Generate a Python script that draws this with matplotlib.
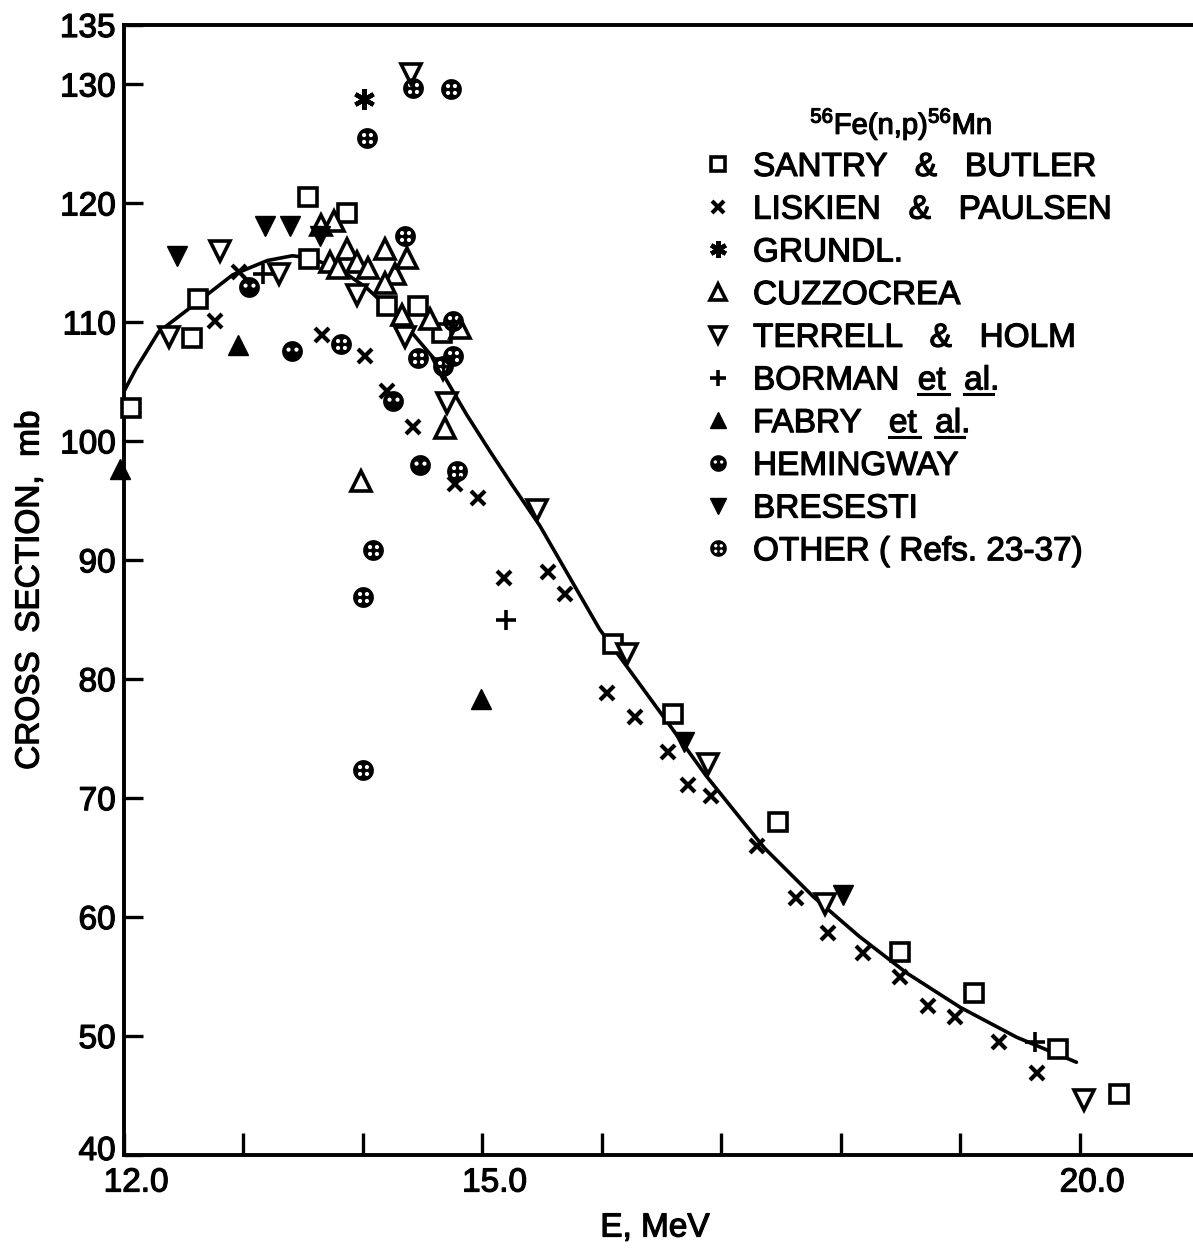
import numpy as np
import matplotlib
matplotlib.use('Agg')
from matplotlib import pyplot as plt
from matplotlib import patheffects
from matplotlib.path import Path
from matplotlib.lines import Line2D
from matplotlib.font_manager import FontProperties
from matplotlib.transforms import ScaledTranslation

plt.rcParams['font.family'] = ['Liberation Sans', 'DejaVu Sans']
plt.rcParams['mathtext.fontset'] = 'custom'
plt.rcParams['mathtext.rm'] = 'Liberation Sans'

W, H = 1193, 1252

# data: E in MeV, cross section in mb
SANTRY_E = [12.06, 12.57, 12.62, 13.54, 13.55, 13.87, 14.20, 14.46, 14.66, 16.09, 16.59,
            17.47, 18.49, 19.11, 19.82, 20.33]
SANTRY_S = [102.8, 108.7, 112.0, 120.5, 115.3, 119.2, 111.4, 111.4, 109.1, 83.0, 77.1,
            68.0, 57.1, 53.6, 48.9, 45.1]

LISKIEN_E = [12.76, 12.96, 13.66, 14.02, 14.20, 14.42, 14.77, 14.96, 15.18, 15.55, 15.69,
             16.04, 16.28, 16.55, 16.72, 16.91, 17.30, 17.62, 17.89, 18.18, 18.49, 18.73,
             18.95, 19.32, 19.64]
LISKIEN_S = [110.1, 114.2, 108.9, 107.2, 104.2, 101.2, 96.4, 95.2, 88.5, 89.0, 87.2,
             78.8, 76.8, 73.9, 71.1, 70.2, 66.0, 61.6, 58.7, 57.0, 55.0, 52.5,
             51.6, 49.5, 46.9]

GRUNDL_E = [14.01]
GRUNDL_S = [128.8]

CUZZ_E = [13.65, 13.76, 13.72, 13.87, 13.95, 13.79, 14.04, 14.18, 14.27, 14.37, 14.18,
          14.33, 14.56, 14.81, 14.69, 13.98]
CUZZ_S = [118.2, 118.5, 115.1, 116.2, 115.1, 114.6, 114.6, 116.2, 114.1, 115.4, 113.3,
          110.6, 110.3, 109.5, 101.1, 96.7]

TERRELL_E = [12.38, 12.80, 13.30, 14.40, 13.95, 14.35, 14.67, 14.70, 15.46, 16.21, 16.89,
             17.87, 20.03]
TERRELL_S = [108.8, 116.0, 114.1, 130.9, 112.3, 108.8, 106.1, 103.2, 94.2, 82.1, 72.9,
             61.1, 44.6]

BORMAN_E = [13.16, 15.20, 19.62]
BORMAN_S = [114.1, 85.0, 49.5]

FABRY_E = [11.97, 12.95, 14.99]
FABRY_S = [97.7, 108.1, 78.3]

HEMING_E = [13.05, 13.41, 14.25, 14.48]
HEMING_S = [113.0, 107.6, 103.4, 98.0]

BRESESTI_E = [12.44, 13.18, 13.39, 13.64, 16.69, 18.02]
BRESESTI_S = [115.6, 118.1, 118.1, 117.3, 74.7, 61.9]

OTHER_E = [13.82, 14.03, 14.42, 14.74, 14.35, 14.46, 14.67, 14.75, 14.75, 14.79, 14.08,
           14.00, 14.00]
OTHER_S = [108.2, 125.5, 129.7, 129.6, 117.3, 107.0, 106.3, 110.1, 107.2, 97.5, 90.9,
           86.9, 72.4]

CURVE_E = [12.0, 12.1, 12.29, 12.55, 12.91, 13.2, 13.41, 13.56, 13.8, 14.03, 14.31, 14.59,
           14.87, 15.06, 15.25, 15.48, 15.98, 16.3, 16.59, 16.87, 17.15, 17.36, 17.77,
           18.15, 18.55, 19.0, 19.47, 19.97]
CURVE_S = [104.2, 106.1, 109.2, 111.2, 114.0, 115.2, 115.6, 115.4, 114.5, 112.9, 110.3, 107.0,
           102.2, 99.2, 96.3, 92.9, 84.2, 79.8, 75.8, 71.9, 68.4, 65.8, 61.7,
           58.4, 55.3, 52.4, 49.9, 47.8]

X_TICKS = [12, 13, 14, 15, 16, 17, 18, 19, 20]
X_LABELS = ['12.0', '', '', '15.0', '', '', '', '', '20.0']
Y_TICKS = [40, 50, 60, 70, 80, 90, 100, 110, 120, 130, 135]


def holed_circle(holes):
    t = np.linspace(0, 2 * np.pi, 41)[:-1]
    verts, codes = [], []
    for cx, cy, r, rev in [(0, 0, 1, False)] + [(h[0], h[1], h[2], True) for h in holes]:
        tt = t[::-1] if rev else t
        pts = np.c_[cx + r * np.cos(tt), cy + r * np.sin(tt)]
        verts += pts.tolist() + [pts[0].tolist()]
        codes += [Path.MOVETO] + [Path.LINETO] * (len(pts) - 1) + [Path.CLOSEPOLY]
    return Path(verts, codes)


HEMI_MARK = holed_circle([(-0.38, 0.18, 0.2), (0.38, 0.18, 0.2)])
OTHER_MARK = holed_circle([(-0.33, 0.33, 0.2), (0.33, 0.33, 0.2),
                           (-0.33, -0.33, 0.2), (0.33, -0.33, 0.2)])

STYLE = {
    'square': dict(marker='s', ms=13, mfc='white', mec='black', mew=2.6),
    'x': dict(marker='x', ms=10, mec='black', mew=3),
    'star': dict(marker=(6, 2, 0), ms=15, mec='black', mew=3.2),
    'up': dict(marker='^', ms=15, mfc='white', mec='black', mew=2.6),
    'down': dict(marker='v', ms=15, mfc='white', mec='black', mew=2.6),
    'plus': dict(marker='+', ms=14, mec='black', mew=2.6),
    'upfill': dict(marker='^', ms=15, mfc='black', mec='black', mew=1),
    'hemi': dict(marker=HEMI_MARK, ms=15, mfc='black', mec='black', mew=0),
    'downfill': dict(marker='v', ms=15, mfc='black', mec='black', mew=1),
    'other': dict(marker=OTHER_MARK, ms=15, mfc='black', mec='black', mew=0),
}

SERIES = [
    ('SANTRY   &   BUTLER', SANTRY_E, SANTRY_S, 'square'),
    ('LISKIEN   &   PAULSEN', LISKIEN_E, LISKIEN_S, 'x'),
    ('GRUNDL.', GRUNDL_E, GRUNDL_S, 'star'),
    ('CUZZOCREA', CUZZ_E, CUZZ_S, 'up'),
    ('TERRELL   &   HOLM', TERRELL_E, TERRELL_S, 'down'),
    ('BORMAN  et  al.', BORMAN_E, BORMAN_S, 'plus'),
    ('FABRY   et  al.', FABRY_E, FABRY_S, 'upfill'),
    ('HEMINGWAY', HEMING_E, HEMING_S, 'hemi'),
    ('BRESESTI', BRESESTI_E, BRESESTI_S, 'downfill'),
    ('OTHER ( Refs. 23-37)', OTHER_E, OTHER_S, 'other'),
]

FS = 24
LEG_FS = 24
# the scanned lettering is heavier than a regular face
HEAVY = [patheffects.withStroke(linewidth=0.9, foreground='black')]

fig = plt.figure(figsize=(W / 100, H / 100), dpi=100)
ax = fig.add_axes([124 / W, 1 - 1155 / H, (W - 124) / W, (1155 - 25) / H])
ax.set_xlim(12, 12 + (W - 124) / 119.5)
ax.set_ylim(40, 135)

ax.plot(CURVE_E, CURVE_S, color='black', lw=2.6, zorder=2, solid_capstyle='round',
        solid_joinstyle='round')
for name, e, s, key in SERIES:
    ax.plot(e, s, ls='none', zorder=3, clip_on=False, **STYLE[key])

for side in ['left', 'bottom', 'top']:
    ax.spines[side].set_linewidth(2.8)
ax.spines['right'].set_visible(False)

ax.set_xticks(X_TICKS)
ax.set_xticklabels(X_LABELS)
ax.set_yticks(Y_TICKS)
ax.set_yticklabels([str(v) for v in Y_TICKS])
ax.tick_params(axis='x', direction='in', length=16, width=2.4, labelsize=FS, pad=9)
ax.tick_params(axis='y', direction='in', length=14, width=2.4, labelsize=FS, pad=6)

# the original lettering sits a little right of the x ticks, and "40" sits a bit high
shift_x = ScaledTranslation(12 / 100, 0, fig.dpi_scale_trans)
for lab in ax.get_xticklabels():
    lab.set_transform(lab.get_transform() + shift_x)
    lab.set_path_effects(HEAVY)
ylabs = ax.get_yticklabels()
ylabs[0].set_transform(ylabs[0].get_transform() + ScaledTranslation(0, 7 / 100, fig.dpi_scale_trans))
for lab in ylabs:
    lab.set_path_effects(HEAVY)

# axis titles
fig.text(655 / W, 1 - 1228 / H, 'E, MeV', fontsize=FS, ha='center', va='center',
         path_effects=HEAVY)
fig.text(30 / W, 1 - 590 / H, 'CROSS  SECTION,  mb', fontsize=FS, rotation=90,
         ha='center', va='center', path_effects=HEAVY)

# legend drawn by hand like the original
fig.text(810 / W, 1 - 134 / H, r'$^{56}$Fe(n,p)$^{56}$Mn', fontsize=21,
         ha='left', va='baseline', path_effects=HEAVY)

cap = 0.716 * LEG_FS * 100 / 72
rows = []
for i, (name, e, s, key) in enumerate(SERIES):
    ry = 164 + 42.7 * i
    st = dict(STYLE[key])
    st['ms'] = st['ms'] * 0.8
    fig.add_artist(Line2D([718 / W], [1 - ry / H], transform=fig.transFigure, ls='none', **st))
    base = ry + cap / 2
    fig.text(753 / W, 1 - base / H, name, fontsize=LEG_FS, ha='left', va='baseline',
             path_effects=HEAVY)
    rows.append((name, base))

# underline "et" and "al."
fig.canvas.draw()
rend = fig.canvas.get_renderer()
fp = FontProperties(family=['Liberation Sans'], size=LEG_FS)


def tw(txt):
    return rend.get_text_width_height_descent(txt, fp, ismath=False)[0]


for name, base in rows:
    if 'et' not in name:
        continue
    for word in ['et', 'al']:
        i = name.index(word, name.index('  '))
        end = tw(name[:i + len(word)])
        start = end - tw(word)
        yy = 1 - (base + 5) / H
        fig.add_artist(Line2D([(753 + start) / W, (753 + end + 3) / W], [yy, yy],
                              transform=fig.transFigure, color='black', lw=2.2))

fig.savefig('out.png', dpi=100, facecolor='white')
